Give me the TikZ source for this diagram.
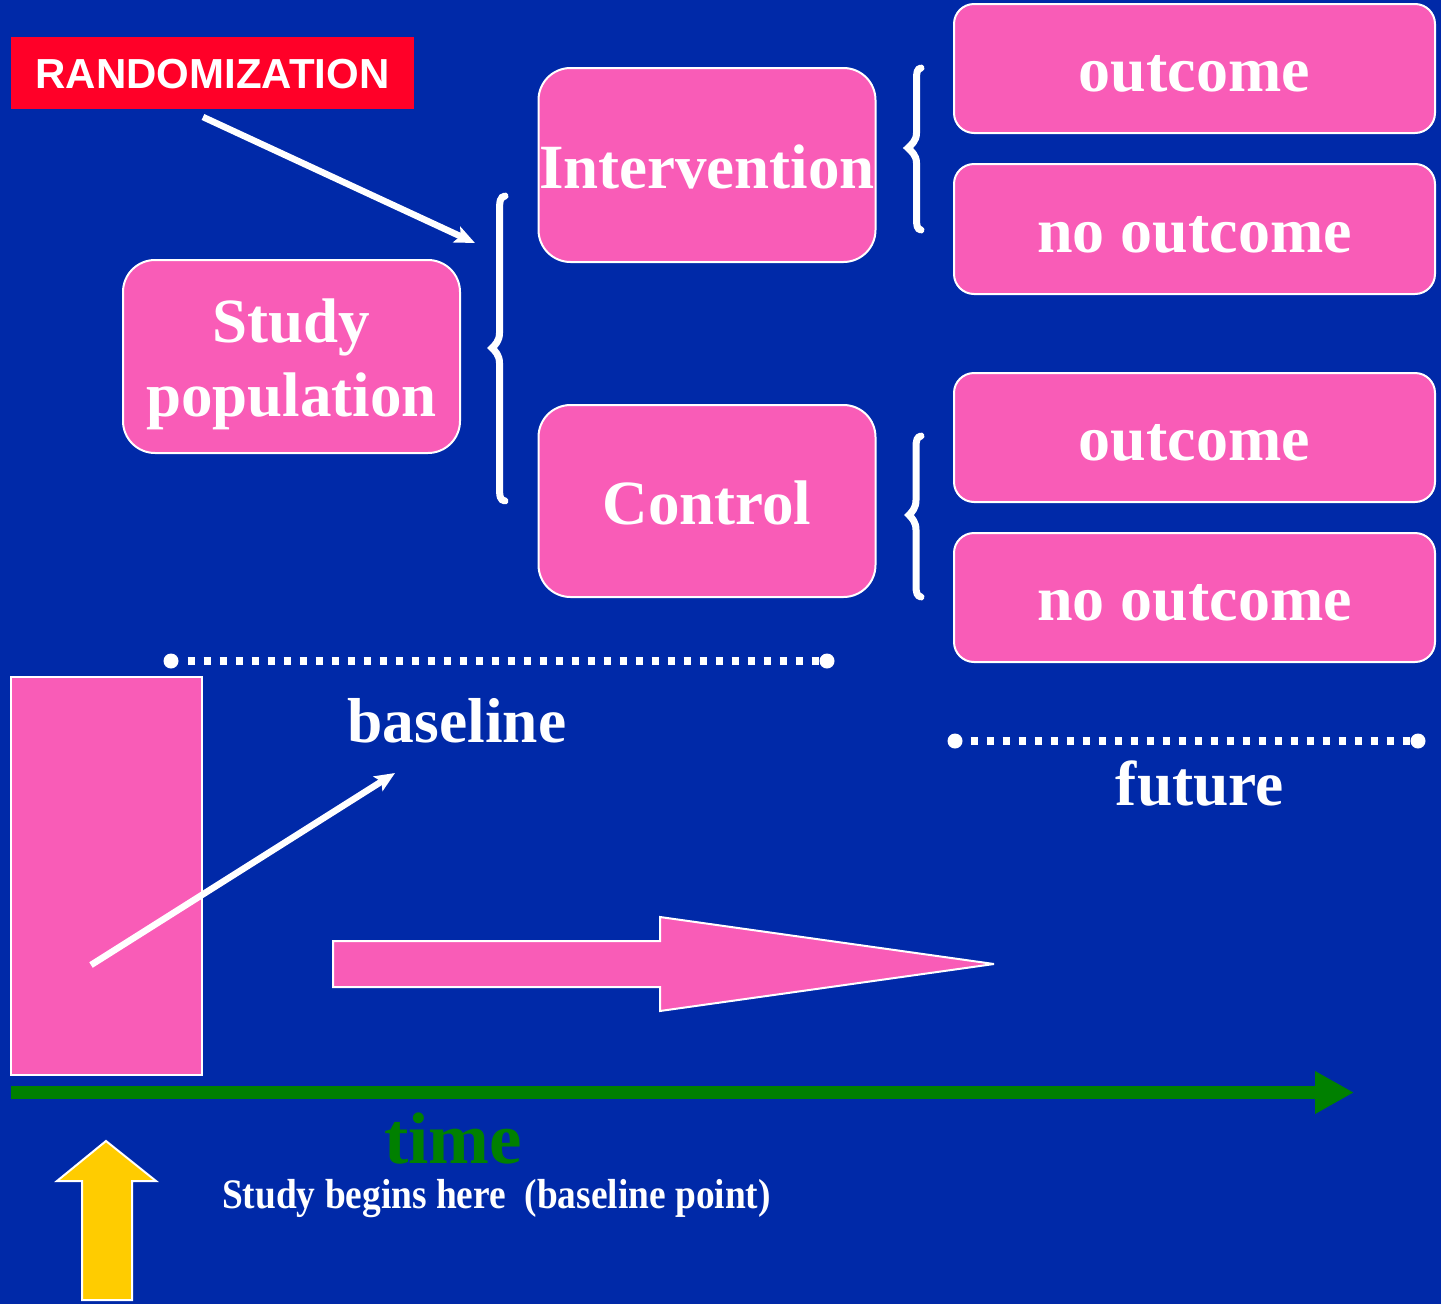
\documentclass[tikz,border=0pt]{standalone}
\usepackage{fontspec}
\setmainfont{Liberation Serif}
\newfontfamily\sansfont{Liberation Sans}
\usetikzlibrary{arrows.meta}
\definecolor{bg}{RGB}{0,41,168}
\definecolor{pinkc}{RGB}{249,92,183}
\definecolor{redc}{RGB}{255,0,40}
\definecolor{greenc}{RGB}{0,128,0}
\definecolor{yellowc}{RGB}{255,204,0}
\begin{document}
\begin{tikzpicture}[x=1pt,y=-1pt,
  pbox/.style={draw=white, line width=2pt, fill=pinkc, rounded corners=32pt, inner sep=0pt, outer sep=0pt, text=white, font=\bfseries\fontsize{63}{74}\selectfont, text height=46pt, text depth=0pt},
  obox/.style={pbox, rounded corners=20pt, minimum width=481pt, font=\bfseries\fontsize{64}{74}\selectfont},
  brace/.style={draw=white, line width=7pt, line cap=round, line join=miter},
  warrow/.style={draw=white, line width=6.5pt, -{Stealth[length=20pt,width=17pt,inset=4pt]}},
  dotline/.style={draw=white, line width=7.5pt, dash pattern=on 7.5pt off 8.5pt},
  dotend/.style={circle, fill=white, minimum size=15pt, inner sep=0pt, outer sep=0pt},
  lbl/.style={text=white, font=\bfseries\fontsize{63.5}{74}\selectfont, anchor=base, inner sep=0pt}
]
\useasboundingbox (0,0) rectangle (1441,1304);
\fill[bg] (0,0) rectangle (1441,1304);

% randomization label
\node[fill=redc, minimum width=403pt, minimum height=72pt, inner sep=0pt, outer sep=0pt, text=white, font=\sansfont\bfseries\fontsize{42}{50}\selectfont, text height=30pt, text depth=0pt] (rand) at (212.5,73) {RANDOMIZATION\hspace{5pt}};

% boxes
\node[pbox, minimum width=337pt, minimum height=193pt, text height=0pt, text depth=29pt] (study) at (291.5,356.5) {\parbox[t]{330pt}{\centering Study\\population}};
\node[pbox, minimum width=337pt, minimum height=194pt] (interv) at (707,165) {Intervention};
\node[pbox, minimum width=337pt, minimum height=192pt] (control) at (707,501) {Control};
\node[obox, minimum height=129pt] (o1) at (1194.5,68.5) {outcome};
\node[obox, minimum height=130pt] (n1) at (1194.5,229) {no outcome};
\node[obox, minimum height=129pt] (o2) at (1194.5,437.5) {outcome};
\node[obox, minimum height=129pt] (n2) at (1194.5,597.5) {no outcome};

% braces
\draw[brace] (505,196) .. controls (500,197) and (499.5,201) .. (499.5,212) -- (499.5,333) .. controls (499.5,341) and (495,345) .. (492,348) .. controls (495,351) and (499.5,355) .. (499.5,363) -- (499.5,486) .. controls (499.5,497) and (500,500) .. (505,501);
\draw[brace] (921,68) .. controls (917,69) and (916.5,72) .. (916.5,80) -- (916.5,133) .. controls (916.5,141) and (911,145) .. (908,148) .. controls (911,151) and (916.5,155) .. (916.5,163) -- (916.5,218) .. controls (916.5,226) and (917,229) .. (921,230);
\draw[brace] (921,436) .. controls (917,437) and (916,440) .. (916,448) -- (916,500) .. controls (916,508) and (912,512) .. (909,515) .. controls (912,518) and (916,522) .. (916,530) -- (916,585) .. controls (916,593) and (917,596) .. (921,597);

% randomization arrow
\coordinate (r1) at (203,117);
\coordinate (r2) at (475,243);
\draw[warrow] (r1) -- (r2);

% dotted time spans
\node[dotend] (da) at (171,661) {};
\node[dotend] (db) at (827,661) {};
\draw[dotline, shorten <=9pt] (da) -- (db);
\node[dotend] (dc) at (955,741) {};
\node[dotend] (dd) at (1418,741) {};
\draw[dotline, shorten <=8pt] (dc) -- (dd);

\node[lbl] (baseline) at (457,742) {baseline};
\node[lbl] (future) at (1200,805) {future};

% tall bar
\node[draw=white, line width=2pt, fill=pinkc, minimum width=191pt, minimum height=398pt, inner sep=0pt, outer sep=0pt] (bar) at (106.5,876) {};
\coordinate (b1) at (91,965);
\coordinate (b2) at (395,773);
\draw[warrow] (b1) -- (b2);

% big pink arrow
\draw[draw=white, line width=2pt, fill=pinkc, line join=miter, miter limit=4] (333,941) -- (660,941) -- (660,917) -- (994,964) -- (660,1011) -- (660,987) -- (333,987) -- cycle;

% time axis
\coordinate (t1) at (11,1092.5);
\coordinate (t2) at (1354,1092.5);
\draw[draw=greenc, line width=13pt, -{Triangle[length=39pt,width=40pt]}] (t1) -- (t2);
\node[lbl, text=greenc, font=\bfseries\fontsize{73}{80}\selectfont] (time) at (453,1163) {time};
\node[anchor=base west, inner sep=0pt, text=white, font=\bfseries\fontsize{42}{50}\selectfont] (begins) at (222,1208) {\scalebox{0.89}[1]{Study begins here\ \ (baseline point)}};

% yellow arrow
\draw[draw=white, line width=2pt, fill=yellowc, line join=miter] (82,1300) -- (82,1181) -- (57,1181) -- (106,1141) -- (156,1181) -- (132,1181) -- (132,1300) -- cycle;
\end{tikzpicture}
\end{document}
